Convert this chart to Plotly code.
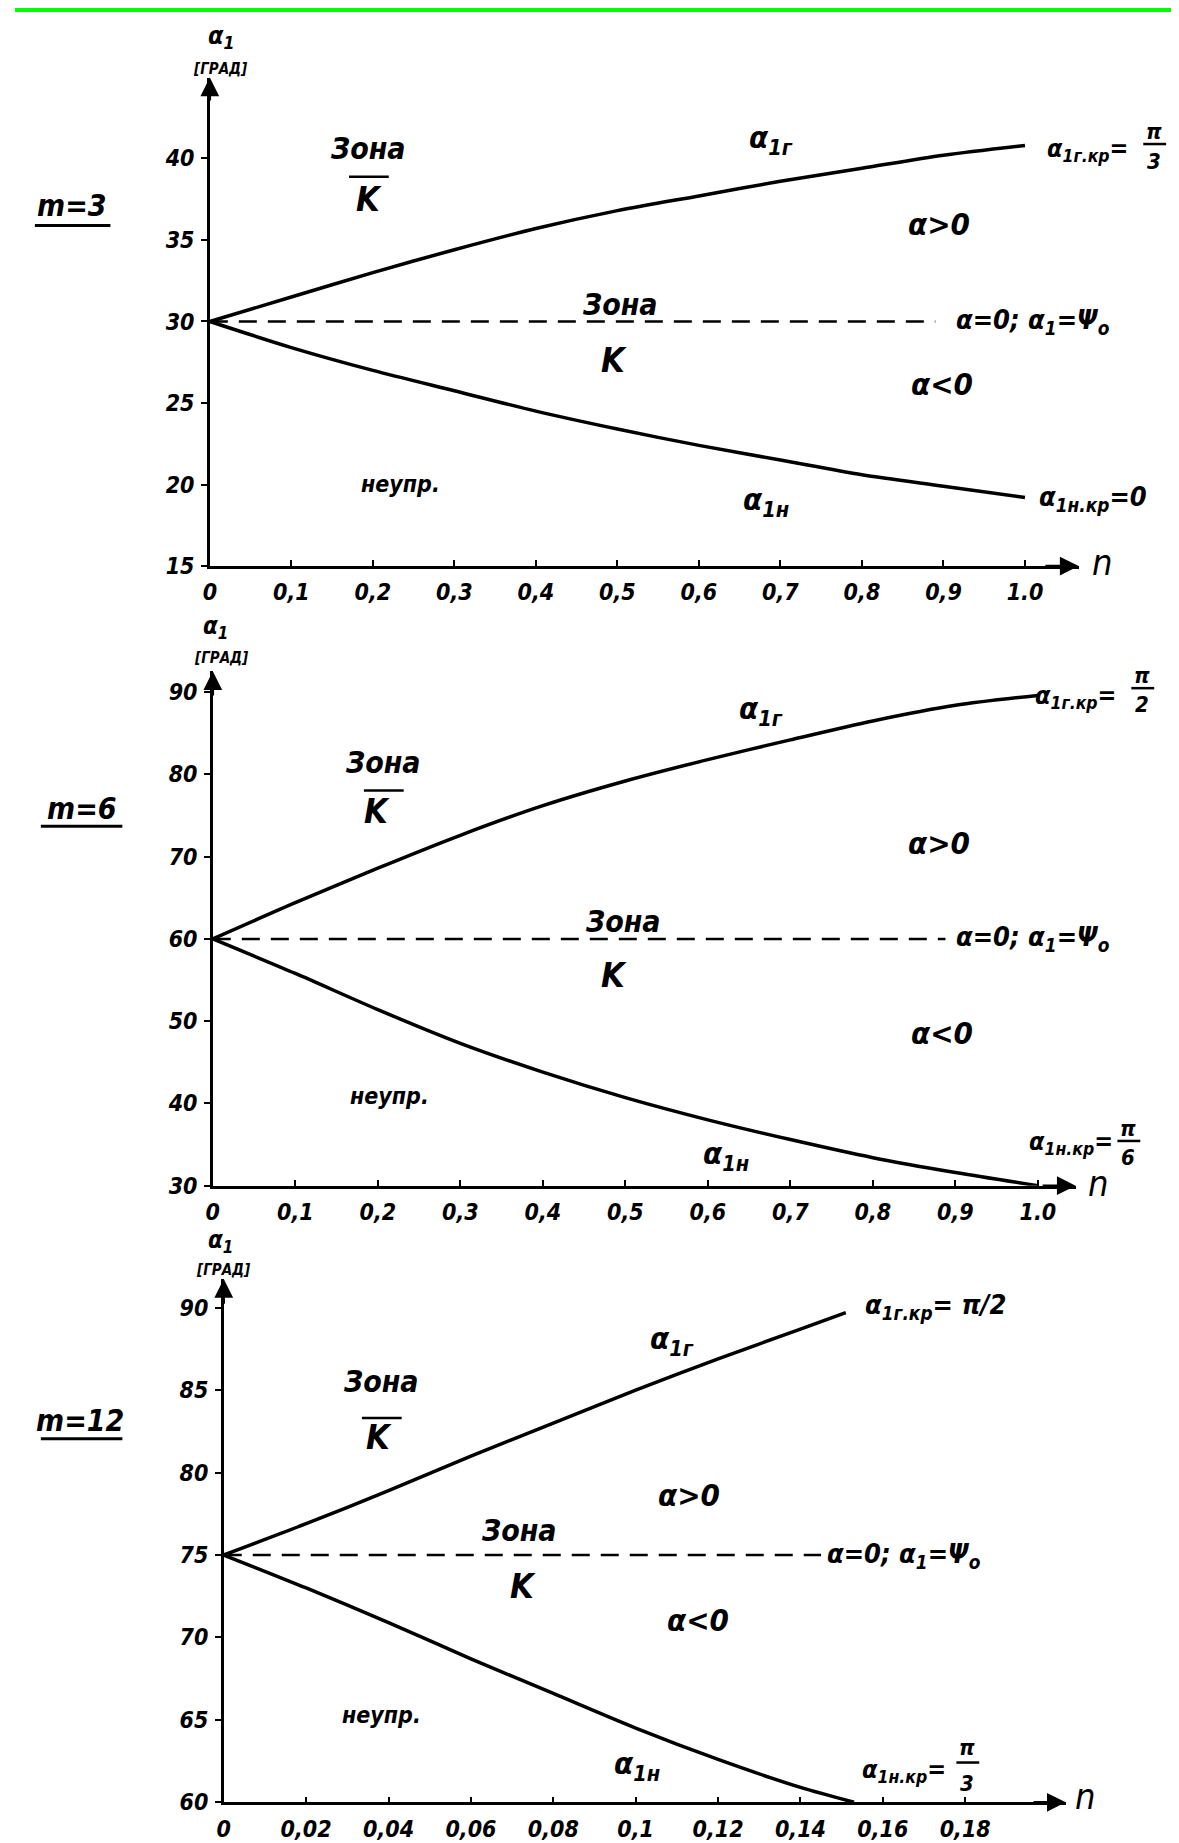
import plotly.graph_objects as go

W, H = 1179, 1843

# ---------------- data ----------------
# Panel 1: m = 3
n_m3 = [0, 0.1, 0.2, 0.3, 0.4, 0.5, 0.6, 0.7, 0.8, 0.9, 1.0]
a1g_m3 = [30, 31.5, 33.0, 34.4, 35.7, 36.8, 37.7, 38.6, 39.4, 40.2, 40.8]
a1n_m3 = [30, 28.4, 27.0, 25.75, 24.5, 23.4, 22.4, 21.5, 20.6, 19.9, 19.2]
psi_m3 = 30
dash_n_m3 = [0, 0.89]

# Panel 2: m = 6
n_m6 = [0, 0.1, 0.2, 0.3, 0.4, 0.5, 0.6, 0.7, 0.8, 0.9, 1.0]
a1g_m6 = [60, 64.4, 68.6, 72.6, 76.2, 79.2, 81.8, 84.2, 86.5, 88.4, 89.6]
a1n_m6 = [60, 55.8, 51.4, 47.3, 43.8, 40.7, 38.0, 35.6, 33.4, 31.6, 30.0]
psi_m6 = 60
dash_n_m6 = [0, 0.888]

# Panel 3: m = 12
n_g_m12 = [0, 0.02, 0.04, 0.06, 0.08, 0.10, 0.12, 0.14, 0.151]
a1g_m12 = [75, 76.9, 78.9, 81.0, 83.0, 85.0, 86.9, 88.7, 89.7]
n_n_m12 = [0, 0.02, 0.04, 0.06, 0.08, 0.10, 0.12, 0.14, 0.153]
a1n_m12 = [75, 73.0, 70.9, 68.7, 66.6, 64.5, 62.6, 60.9, 60.0]
psi_m12 = 75
dash_n_m12 = [0, 0.145]

# ticks
xt_12 = [0, 0.1, 0.2, 0.3, 0.4, 0.5, 0.6, 0.7, 0.8, 0.9, 1.0]
xl_12 = ["0", "0,1", "0,2", "0,3", "0,4", "0,5", "0,6", "0,7", "0,8", "0,9", "1.0"]
xt_3 = [0, 0.02, 0.04, 0.06, 0.08, 0.10, 0.12, 0.14, 0.16, 0.18]
xl_3 = ["0", "0,02", "0,04", "0,06", "0,08", "0,1", "0,12", "0,14", "0,16", "0,18"]
yt_1 = [15, 20, 25, 30, 35, 40]
yt_2 = [30, 40, 50, 60, 70, 80, 90]
yt_3 = [60, 65, 70, 75, 80, 85, 90]

# ---------------- helpers ----------------
FONT = "DejaVu Sans Condensed, DejaVu Sans, sans-serif"


def X(p):
    return p / W


def Y(p):
    return 1 - p / H


fig = go.Figure()

LW = 3.5
DASH = "18px,11px"
SM = 0.8


def curve(xs, ys, xa, ya):
    fig.add_trace(go.Scatter(x=xs, y=ys, mode="lines",
                             line=dict(color="black", width=LW, shape="spline", smoothing=SM),
                             xaxis=xa, yaxis=ya, showlegend=False, hoverinfo="skip"))


def dashed(xs, v, xa, ya):
    fig.add_trace(go.Scatter(x=xs, y=[v] * len(xs), mode="lines",
                             line=dict(color="black", width=2.5, dash=DASH),
                             xaxis=xa, yaxis=ya, showlegend=False, hoverinfo="skip"))


curve(n_m3, a1g_m3, "x", "y"); curve(n_m3, a1n_m3, "x", "y"); dashed(dash_n_m3, psi_m3, "x", "y")
curve(n_m6, a1g_m6, "x2", "y2"); curve(n_m6, a1n_m6, "x2", "y2"); dashed(dash_n_m6, psi_m6, "x2", "y2")
curve(n_g_m12, a1g_m12, "x3", "y3"); curve(n_n_m12, a1n_m12, "x3", "y3"); dashed(dash_n_m12, psi_m12, "x3", "y3")

# ---------------- axes ----------------
tickfont = dict(family=FONT, size=23, color="black", weight="bold", style="italic")


def xax(dom, rng, tv, tt, anchor):
    return dict(domain=[X(dom[0]), X(dom[1])], range=rng, anchor=anchor,
                showgrid=False, zeroline=False, showline=True, linecolor="black", linewidth=2.5,
                ticks="inside", ticklen=6, tickwidth=2, tickcolor="black",
                tickvals=tv, ticktext=tt, tickfont=tickfont, ticklabelstandoff=4, fixedrange=True)


def yax(dom, rng, tv, anchor):
    return dict(domain=[Y(dom[0]), Y(dom[1])], range=rng, anchor=anchor,
                showgrid=False, zeroline=False, showline=True, linecolor="black", linewidth=2.5,
                ticks="outside", ticklen=6, tickwidth=2, tickcolor="black",
                tickvals=tv, ticktext=[str(v) for v in tv], tickfont=tickfont, ticklabelstandoff=2,
                fixedrange=True)


# pixel geometry per panel
P1 = dict(x0=196, xt=1070, ppx=820.0, yb=562, ytp=70, ymin=15, ppy=16.42)
P2 = dict(x0=199, xt=1067, ppx=830.0, yb=1186, ytp=668, ymin=30, ppy=8.283)
P3 = dict(x0=210, xt=1057, ppx=4144.0, yb=1807, ytp=1280, ymin=60, ppy=16.6)


def rngs(P):
    xmax = (P["xt"] - P["x0"]) / P["ppx"]
    ymax = P["ymin"] + (P["yb"] - P["ytp"]) / P["ppy"]
    return [0, xmax], [P["ymin"], ymax]


xr1, yr1 = rngs(P1)
xr2, yr2 = rngs(P2)
xr3, yr3 = rngs(P3)

layout = dict(
    width=W, height=H, margin=dict(l=0, r=0, t=0, b=0),
    paper_bgcolor="white", plot_bgcolor="white",
    font=dict(family=FONT, color="black"),
    showlegend=False,
    xaxis=xax((P1["x0"], P1["xt"]), xr1, xt_12, xl_12, "y"),
    yaxis=yax((P1["yb"], P1["ytp"]), yr1, yt_1, "x"),
    xaxis2=xax((P2["x0"], P2["xt"]), xr2, xt_12, xl_12, "y2"),
    yaxis2=yax((P2["yb"], P2["ytp"]), yr2, yt_2, "x2"),
    xaxis3=xax((P3["x0"], P3["xt"]), xr3, xt_3, xl_3, "y3"),
    yaxis3=yax((P3["yb"], P3["ytp"]), yr3, yt_3, "x3"),
)
fig.update_layout(**layout)

# ---------------- arrows on axes ----------------
for xa, ya, xr, yr in (("x", "y", xr1, yr1), ("x2", "y2", xr2, yr2), ("x3", "y3", xr3, yr3)):
    fig.add_annotation(x=xr[1], y=yr[0], ax=xr[1] - 0.04 * xr[1], ay=yr[0], xref=xa, yref=ya, axref=xa, ayref=ya,
                       text="", showarrow=True, arrowhead=2, arrowsize=1.5, arrowwidth=2.5, arrowcolor="black")
    fig.add_annotation(x=0, y=yr[1], ax=0, ay=yr[1] - 0.05 * (yr[1] - yr[0]), xref=xa, yref=ya, axref=xa, ayref=ya,
                       text="", showarrow=True, arrowhead=2, arrowsize=1.5, arrowwidth=2.5, arrowcolor="black")

# ---------------- text ----------------


def txt(s, x, y, size=24, xanchor="center", bold=True):
    fig.add_annotation(text=s, x=X(x), y=Y(y), xref="paper", yref="paper", showarrow=False,
                       xanchor=xanchor, yanchor="middle",
                       font=dict(family=FONT, size=size, color="black",
                                 weight="bold" if bold else "normal", style="italic"))


def hline(x0, x1, y, w=2.5):
    fig.add_shape(type="line", x0=X(x0), x1=X(x1), y0=Y(y), y1=Y(y), xref="paper", yref="paper",
                  line=dict(color="black", width=w))


A1 = "α<sub>1</sub>"
ZS = 30    # "Зона"
KS = 34    # "K"
AS = 31    # α>0 / α<0
GS = 31    # α1г / α1н
ES = 27    # α=0 label
NS = 23    # неупр.
MS = 30    # m=...
CS = 25    # critical value labels
FS = 22    # fraction digits

# Panel 1
txt("m=3", 57, 199, MS); hline(20, 96, 219, 3)
txt(A1, 207, 29, 25); txt("[ГРАД]", 207, 61, 15)
txt("Зона", 356, 142, ZS); hline(336, 376, 170); txt("K", 356, 192, KS)
txt("α<sub>1г</sub>", 761, 132, GS)
txt("α<sub>1г.кр</sub>=", 1036, 143, CS, "left"); txt("π", 1146, 124, FS); hline(1135, 1158, 137); txt("3", 1146, 155, FS)
txt("α>0", 930, 218, AS)
txt("α=0; α<sub>1</sub>=Ψ<sub>о</sub>", 945, 316, ES, "left")
txt("Зона", 609, 299, ZS); txt("K", 603, 355, KS)
txt("α<0", 933, 379, AS)
txt("неупр.", 388, 479, NS)
txt("α<sub>1н</sub>", 755, 497, GS)
txt("α<sub>1н.кр</sub>=0", 1028, 494, 27, "left")
txt("n", 1094, 558, 36, bold=False)

# Panel 2
txt("m=6", 67, 806, MS); hline(26, 108, 824, 3)
txt(A1, 202, 624, 24); txt("[ГРАД]", 208, 655, 15)
txt("Зона", 371, 760, ZS); hline(351, 391, 788); txt("K", 364, 809, KS)
txt("α<sub>1г</sub>", 750, 707, GS)
txt("α<sub>1г.кр</sub>=", 1024, 694, CS, "left"); txt("π", 1134, 672, FS); hline(1123, 1146, 685); txt("2", 1134, 701, FS)
txt("α>0", 930, 841, AS)
txt("α=0; α<sub>1</sub>=Ψ<sub>о</sub>", 945, 937, ES, "left")
txt("Зона", 612, 920, ZS); txt("K", 603, 974, KS)
txt("α<0", 933, 1032, AS)
txt("неупр.", 377, 1096, NS)
txt("α<sub>1н</sub>", 715, 1156, GS)
txt("α<sub>1н.кр</sub>=", 1018, 1143, CS, "left"); txt("π", 1120, 1128, FS); hline(1109, 1132, 1141); txt("6", 1120, 1158, FS)
txt("n", 1090, 1184, 36, bold=False)

# Panel 3
txt("m=12", 65, 1423, MS); hline(26, 108, 1441, 3)
txt(A1, 207, 1242, 24); txt("[ГРАД]", 210, 1271, 15)
txt("Зона", 369, 1383, ZS); hline(349, 389, 1420); txt("K", 366, 1439, KS)
txt("α<sub>1г</sub>", 661, 1342, GS)
txt("α<sub>1г.кр</sub>= π/2", 853, 1308, 27, "left")
txt("α>0", 678, 1498, AS)
txt("α=0; α<sub>1</sub>=Ψ<sub>о</sub>", 815, 1558, ES, "left")
txt("Зона", 508, 1533, ZS); txt("K", 511, 1589, KS)
txt("α<0", 687, 1623, AS)
txt("неупр.", 369, 1719, NS)
txt("α<sub>1н</sub>", 626, 1770, GS)
txt("α<sub>1н.кр</sub>=", 850, 1776, CS, "left"); txt("π", 958, 1752, FS); hline(947, 970, 1767); txt("3", 958, 1788, FS)
txt("n", 1077, 1801, 36, bold=False)

# green scan frame (top band and right edge)
fig.add_shape(type="rect", x0=0, x1=1, y0=Y(4), y1=1, xref="paper", yref="paper",
              fillcolor="#00ff00", line=dict(width=0))
fig.add_shape(type="rect", x0=X(1177), x1=1, y0=0, y1=1, xref="paper", yref="paper",
              fillcolor="#00ff00", line=dict(width=0))

fig.write_html("out.html")
